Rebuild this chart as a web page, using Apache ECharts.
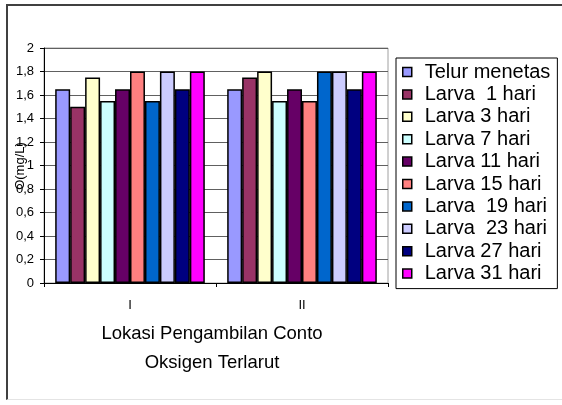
<!DOCTYPE html>
<html>
<head>
<meta charset="utf-8">
<script src="https://cdn.jsdelivr.net/npm/echarts@6/dist/echarts.min.js"></script>
<style>
  html, body { margin: 0; padding: 0; background: #fff; }
  #wrap { position: relative; width: 562px; height: 405px; }
  #frame {
    position: absolute; left: 6px; top: 4px; width: 560px; height: 396px;
    border-left: 2px solid #404040; border-top: 2px solid #404040;
    border-bottom: 1px solid #e4e4e4; box-sizing: border-box; pointer-events: none;
  }
  #chart { position: absolute; left: 0; top: 0; width: 562px; height: 405px; }
</style>
</head>
<body>
<div id="wrap">
  <div id="chart"></div>
  <div id="frame"></div>
</div>
<script>
// lokasi
const categories = ['I', 'II']

// nama seri + nilai per lokasi
const seriesNames = [
  'Telur menetas', 'Larva  1 hari', 'Larva 3 hari', 'Larva 7 hari', 'Larva 11 hari',
  'Larva 15 hari', 'Larva  19 hari', 'Larva  23 hari', 'Larva 27 hari', 'Larva 31 hari'
]
const telurMenetas = [1.65, 1.65]
const larva1 = [1.5, 1.75]
const larva3 = [1.75, 1.8]
const larva7 = [1.55, 1.55]
const larva11 = [1.65, 1.65]
const larva15 = [1.8, 1.55]
const larva19 = [1.55, 1.8]
const larva23 = [1.8, 1.8]
const larva27 = [1.65, 1.65]
const larva31 = [1.8, 1.8]

const yTicks = [0, 0.2, 0.4, 0.6, 0.8, 1, 1.2, 1.4, 1.6, 1.8, 2]

const colors = ['#9999FF', '#993366', '#FFFFCC', '#CCFFFF', '#660066',
                '#FF8080', '#0066CC', '#CCCCFF', '#000080', '#FF00FF']

const values = [telurMenetas, larva1, larva3, larva7, larva11,
                larva15, larva19, larva23, larva27, larva31]

const chart = echarts.init(document.getElementById('chart'))

const series = seriesNames.map((name, i) => ({
  name: name,
  type: 'bar',
  data: values[i],
  barGap: '0%',
  barCategoryGap: '13%',
  itemStyle: {
    color: colors[i],
    borderColor: '#000',
    borderWidth: 1.5
  }
}))

const option = {
  animation: false,
  textStyle: { fontFamily: 'Liberation Sans, Arial, sans-serif' },
  title: {
    text: 'Lokasi Pengambilan Conto\nOksigen Terlarut',
    left: 207,
    top: 314,
    textAlign: 'center',
    textStyle: {
      fontFamily: 'Liberation Sans, Arial, sans-serif',
      fontSize: 18.5,
      fontWeight: 'normal',
      color: '#000',
      lineHeight: 29
    }
  },
  // judul sumbu y, ditumpuk di atas label seperti aslinya
  graphic: [{
    type: 'text',
    x: 20,
    y: 166,
    rotation: Math.PI / 2,
    z: 100,
    style: {
      text: 'O(mg/L)',
      fill: '#000',
      font: '13px Liberation Sans, Arial, sans-serif',
      align: 'center',
      verticalAlign: 'middle'
    }
  }],
  legend: {
    orient: 'vertical',
    left: 396,
    top: 58,
    width: 161,
    padding: [4, 7, 5, 6],
    itemGap: 2.4,
    itemWidth: 9,
    itemHeight: 9,
    icon: 'rect',
    borderColor: '#000',
    borderWidth: 1,
    itemStyle: { borderColor: '#000', borderWidth: 1.5 },
    textStyle: {
      fontFamily: 'Liberation Sans, Arial, sans-serif',
      fontSize: 20,
      color: '#000',
      lineHeight: 20,
      padding: [0, 0, 0, 8]
    },
    data: seriesNames
  },
  grid: {
    left: 44,
    right: 174,
    top: 48,
    bottom: 122,
    outerBoundsMode: 'none',
    containLabel: false,
    show: true,
    borderColor: '#a0a0a0',
    borderWidth: 1,
    backgroundColor: '#fff'
  },
  xAxis: {
    type: 'category',
    data: categories,
    axisLine: { lineStyle: { color: '#000', width: 1 } },
    axisTick: { show: true, length: 4, lineStyle: { color: '#000' } },
    axisLabel: { color: '#000', fontSize: 13, margin: 16 }
  },
  yAxis: {
    type: 'value',
    min: 0,
    max: 2,
    interval: 0.2,
    axisLine: { show: true, lineStyle: { color: '#000', width: 1 } },
    axisTick: { show: true, length: 4, lineStyle: { color: '#000' } },
    axisLabel: {
      color: '#000',
      fontSize: 13,
      margin: 10,
      formatter: v => {
        const t = yTicks.find(x => Math.abs(x - v) < 1e-6)
        return t === undefined ? '' : String(t).replace('.', ',')
      }
    },
    splitLine: { show: true, lineStyle: { color: '#606060', width: 1 } }
  },
  series: series
}

chart.setOption(option)
</script>
</body>
</html>
